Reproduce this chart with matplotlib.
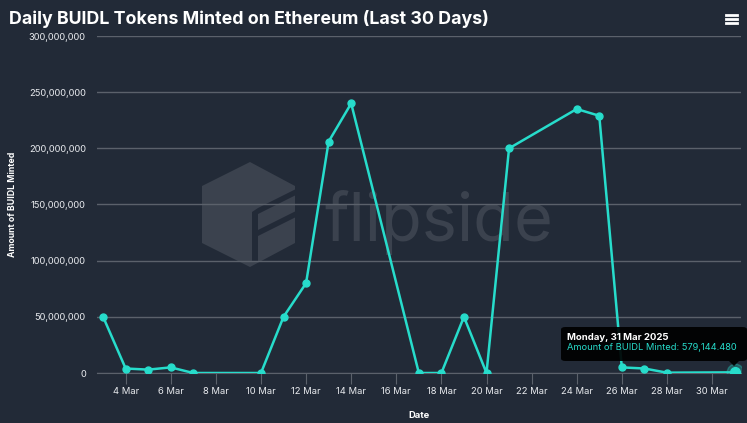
import datetime as dt

import matplotlib
matplotlib.use("Agg")
import matplotlib.pyplot as plt
import matplotlib.dates as mdates
from matplotlib.patches import FancyBboxPatch, Polygon
from matplotlib.ticker import FuncFormatter

# =========================
# DATA
# =========================
DAYS = [3, 4, 5, 6, 7, 10, 11, 12, 13, 14, 17, 18, 19, 20, 21, 24, 25, 26, 27, 28, 31]
MINTED = [
    50_000_000, 4_000_000, 3_000_000, 5_000_000, 0,
    0, 50_000_000, 80_000_000, 206_000_000, 240_000_000,
    0, 0, 50_000_000, 0, 200_000_000,
    235_000_000, 229_000_000, 5_000_000, 4_000_000, 300_000,
    579_144.480,
]
Y_TICKS = [0, 50_000_000, 100_000_000, 150_000_000, 200_000_000, 250_000_000, 300_000_000]
TICK_DAYS = [4, 6, 8, 10, 12, 14, 16, 18, 20, 22, 24, 26, 28, 30]

TITLE = "Daily BUIDL Tokens Minted on Ethereum (Last 30 Days)"
TOOLTIP_DATE = "Monday, 31 Mar 2025"
TOOLTIP_TEXT = "Amount of BUIDL Minted: 579,144.480"

# =========================
# STYLE
# =========================
BG = "#222a37"
LINE = "#27dccb"
GRID = "#5b616b"
TXT = "#e8eaee"
WM = "#3b424e"

plt.rcParams["font.family"] = ["Inter", "DejaVu Sans"]

W, H = 747, 423
AX_L, AX_R, AX_T, AX_B = 97, 741, 36, 373


def ax_xy(px, py):
    # pixels de l'image -> coordonnées axes (pour le filigrane)
    return ((px - AX_L) / (AX_R - AX_L), (AX_B - py) / (AX_B - AX_T))


def fig_xy(px, py):
    return (px / W, 1 - py / H)


dates = [dt.datetime(2025, 3, d) for d in DAYS]

fig = plt.figure(figsize=(W / 100, H / 100), dpi=100, facecolor=BG)
ax = fig.add_axes([AX_L / W, 1 - AX_B / H, (AX_R - AX_L) / W, (AX_B - AX_T) / H])
ax.set_facecolor(BG)

# watermark flipside (logo + texte)
hexa = Polygon(
    [ax_xy(*p) for p in [(250, 162), (295, 186), (295, 243), (250, 267), (202, 243), (202, 186)]],
    closed=True, transform=ax.transAxes, facecolor=WM, edgecolor="none", zorder=0,
)
ax.add_patch(hexa)
for (x0, y0) in [(258, 200), (258, 222)]:
    band = Polygon(
        [ax_xy(*p) for p in [(x0, y0 + 8), (x0 + 40, y0 - 12), (x0 + 40, y0 - 6), (x0, y0 + 14)]],
        closed=True, transform=ax.transAxes, facecolor=BG, edgecolor="none", zorder=0,
    )
    ax.add_patch(band)
ax.add_patch(Polygon(
    [ax_xy(*p) for p in [(252, 212), (258, 208), (258, 262), (252, 262)]],
    closed=True, transform=ax.transAxes, facecolor=BG, edgecolor="none", zorder=0,
))
tx, ty = ax_xy(324, 222)
ax.text(tx, ty, "flipside", transform=ax.transAxes, fontsize=48, color=WM,
        ha="left", va="center", zorder=0)

ax.plot(dates, MINTED, color=LINE, lw=1.8, marker="o", ms=5, zorder=3)
# point survolé
ax.plot(dates[-1], MINTED[-1], "o", ms=12, color=LINE, alpha=0.3, zorder=4)
ax.plot(dates[-1], MINTED[-1], "o", ms=7, color=LINE, zorder=5)

ax.set_ylim(0, 300_000_000)
ax.set_xlim(dt.datetime(2025, 3, 2, 17, 30), dt.datetime(2025, 3, 31, 6, 50))
ax.set_yticks(Y_TICKS)
ax.yaxis.set_major_formatter(FuncFormatter(lambda v, p: f"{int(v):,}"))
ax.set_xticks([dt.datetime(2025, 3, d) for d in TICK_DAYS])
ax.xaxis.set_major_formatter(mdates.DateFormatter("%-d %b"))

ax.grid(axis="y", color=GRID, lw=1)
ax.set_axisbelow(True)
for s in ["top", "right", "left"]:
    ax.spines[s].set_visible(False)
ax.spines["bottom"].set_color(GRID)
ax.tick_params(axis="y", length=0, pad=8, labelsize=6.7, labelcolor=TXT)
ax.tick_params(axis="x", length=8, color=GRID, pad=2, labelsize=6.8, labelcolor=TXT)

ax.set_ylabel("Amount of BUIDL Minted", fontsize=6.3, fontweight="bold", color="white")
ax.yaxis.set_label_coords((17 - AX_L) / (AX_R - AX_L), 0.5)
ax.set_xlabel("Date", fontsize=6.8, fontweight="bold", color="white")
ax.xaxis.set_label_coords(0.5, (AX_B - 411) / (AX_B - AX_T))

fig.text(*fig_xy(9, 19), TITLE, fontsize=12.8, fontweight="bold", color="white",
         ha="left", va="center")

# menu hamburger
for yy in (15, 19, 23):
    fig.add_artist(plt.Line2D([726 / W, 737 / W], [1 - yy / H] * 2, color="white", lw=2))

# tooltip
box = FancyBboxPatch(fig_xy(561, 361), 186 / W, 34 / H,
                     boxstyle="round,pad=0,rounding_size=0.006", transform=fig.transFigure,
                     facecolor="black", edgecolor="none", alpha=0.92, zorder=10)
fig.add_artist(box)
fig.add_artist(Polygon([fig_xy(729, 361), fig_xy(739, 361), fig_xy(734, 366)],
                       closed=True, transform=fig.transFigure, facecolor="black", edgecolor="none",
                       alpha=0.92, zorder=10))
fig.text(*fig_xy(567, 337), TOOLTIP_DATE, fontsize=6.9, fontweight="bold", color="white",
         ha="left", va="center", zorder=11)
fig.text(*fig_xy(567, 348), TOOLTIP_TEXT, fontsize=6.7, color=LINE,
         ha="left", va="center", zorder=11)

fig.savefig("out.png", dpi=100, facecolor=BG)
